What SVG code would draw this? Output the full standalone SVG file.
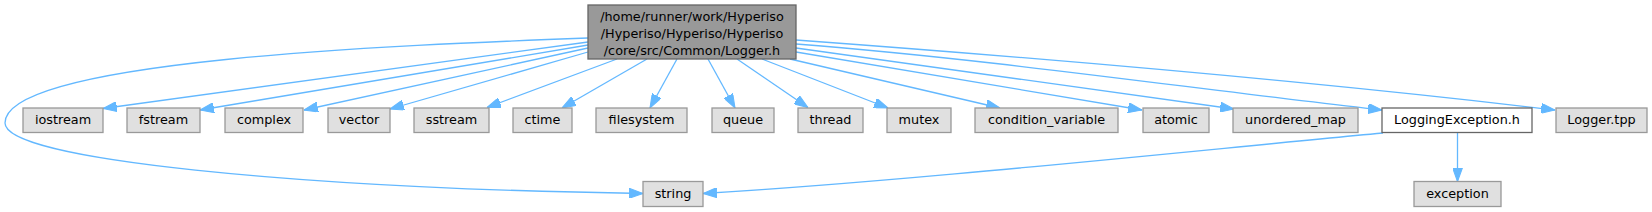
<svg xmlns="http://www.w3.org/2000/svg" width="1652" height="212" viewBox="0 0 1652 212">
<style>
  .n rect { fill: #e0e0e0; stroke: #999999; stroke-width: 1.3; }
  .n.main rect { fill: #999999; stroke: #666666; }
  .n.doc rect { fill: #ffffff; stroke: #666666; }
  text { font-family: "DejaVu Sans", sans-serif; font-size: 12.8px; fill: #000000; text-anchor: middle; }
  .e path { fill: none; stroke: #63b8ff; stroke-width: 1.3; }
</style>
<defs>
  <marker id="ah" markerUnits="userSpaceOnUse" markerWidth="14" markerHeight="10" viewBox="0 0 13 9.4" refX="13" refY="4.7" orient="auto">
    <path d="M0,0 L13,4.7 L0,9.4 z" fill="#63b8ff" stroke="#63b8ff" stroke-width="1"/>
  </marker>
</defs>
<g id="edges" class="e">
  <path marker-end="url(#ah)" d="M588,38 C400,45 5,60 5,123 C5,160 300,188 643,193.5"/>
  <path marker-end="url(#ah)" d="M588,42 L103,108.5"/>
  <path marker-end="url(#ah)" d="M588,45 L200,110"/>
  <path marker-end="url(#ah)" d="M588,48 L304,110"/>
  <path marker-end="url(#ah)" d="M588,52 L390,109"/>
  <path marker-end="url(#ah)" d="M617,59 L487,107.5"/>
  <path marker-end="url(#ah)" d="M647,59 L562,108"/>
  <path marker-end="url(#ah)" d="M677,59 L650,108"/>
  <path marker-end="url(#ah)" d="M708,59 L735,108"/>
  <path marker-end="url(#ah)" d="M737,59 L808,107.5"/>
  <path marker-end="url(#ah)" d="M762,59 L888,108"/>
  <path marker-end="url(#ah)" d="M790,59 L1000,108"/>
  <path marker-end="url(#ah)" d="M796,52 L1142,110"/>
  <path marker-end="url(#ah)" d="M796,48 L1234,109"/>
  <path marker-end="url(#ah)" d="M796,44 C1000,60 1200,90 1382,110"/>
  <path marker-end="url(#ah)" d="M796,40 C1000,55 1300,80 1555,110"/>
  <path marker-end="url(#ah)" d="M1383,133 C1200,150 900,182 703,193.5"/>
  <path marker-end="url(#ah)" d="M1457.5,132.5 L1457.5,181.5"/>
</g>
<g id="node_main" class="n main"><rect x="588" y="5" width="208" height="54"/>
  <text x="692" y="20.5">/home/runner/work/Hyperiso</text>
  <text x="692" y="37.5">/Hyperiso/Hyperiso/Hyperiso</text>
  <text x="692" y="54.5">/core/src/Common/Logger.h</text></g>
<g id="node_iostream" class="n"><rect x="23" y="108" width="80" height="24.5"/><text x="63" y="124.2">iostream</text></g>
<g id="node_fstream" class="n"><rect x="127" y="108" width="73" height="24.5"/><text x="163.5" y="124.2">fstream</text></g>
<g id="node_complex" class="n"><rect x="225" y="108" width="78" height="24.5"/><text x="264" y="124.2">complex</text></g>
<g id="node_vector" class="n"><rect x="328" y="108" width="62" height="24.5"/><text x="359" y="124.2">vector</text></g>
<g id="node_sstream" class="n"><rect x="414" y="108" width="75" height="24.5"/><text x="451.5" y="124.2">sstream</text></g>
<g id="node_ctime" class="n"><rect x="513" y="108" width="59" height="24.5"/><text x="542.5" y="124.2">ctime</text></g>
<g id="node_filesystem" class="n"><rect x="596" y="108" width="91" height="24.5"/><text x="641.5" y="124.2">filesystem</text></g>
<g id="node_queue" class="n"><rect x="712" y="108" width="62" height="24.5"/><text x="743" y="124.2">queue</text></g>
<g id="node_thread" class="n"><rect x="798" y="108" width="65" height="24.5"/><text x="830.5" y="124.2">thread</text></g>
<g id="node_mutex" class="n"><rect x="887" y="108" width="64" height="24.5"/><text x="919" y="124.2">mutex</text></g>
<g id="node_condition_variable" class="n"><rect x="975" y="108" width="143" height="24.5"/><text x="1046.5" y="124.2">condition_variable</text></g>
<g id="node_atomic" class="n"><rect x="1143" y="108" width="66" height="24.5"/><text x="1176" y="124.2">atomic</text></g>
<g id="node_unordered_map" class="n"><rect x="1233" y="108" width="125" height="24.5"/><text x="1295.5" y="124.2">unordered_map</text></g>
<g id="node_LoggingException" class="n doc"><rect x="1382" y="108" width="150" height="24.5"/><text x="1457" y="124.2">LoggingException.h</text></g>
<g id="node_Logger_tpp" class="n"><rect x="1556" y="108" width="91" height="24.5"/><text x="1601.5" y="124.2">Logger.tpp</text></g>
<g id="node_string" class="n"><rect x="643" y="181.5" width="60" height="25"/><text x="673" y="197.7">string</text></g>
<g id="node_exception" class="n"><rect x="1414" y="181.5" width="87" height="25"/><text x="1457.5" y="197.7">exception</text></g>
</svg>
